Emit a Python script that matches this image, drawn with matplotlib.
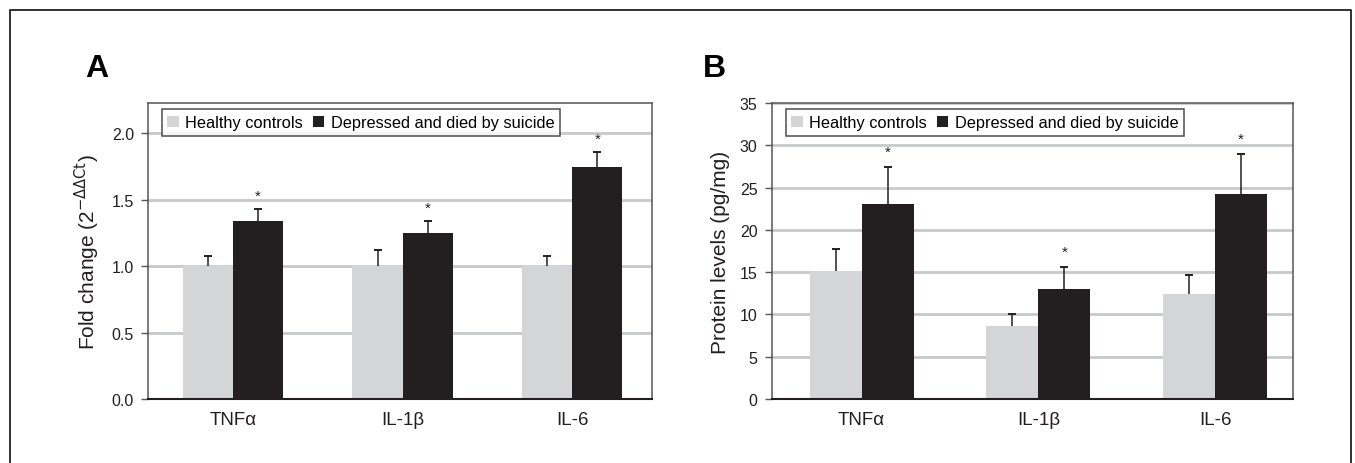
import numpy as np
import matplotlib.pyplot as plt
from matplotlib.lines import Line2D
from matplotlib.patches import Patch

plt.rcParams['font.family'] = ['Liberation Sans', 'DejaVu Sans']

cytokines = ["TNF\u03b1", "IL-1\u03b2", "IL-6"]
groups = ["Healthy controls", "Depressed and died by suicide"]

# panel A: mRNA fold change
fold_ctrl = [1.0, 1.0, 1.0]
fold_ctrl_err = [0.08, 0.12, 0.08]
fold_dep = [1.34, 1.25, 1.75]
fold_dep_err = [0.09, 0.09, 0.11]

# panel B: protein levels (pg/mg)
prot_ctrl = [15.1, 8.6, 12.4]
prot_ctrl_err = [2.6, 1.5, 2.2]
prot_dep = [23.0, 13.0, 24.2]
prot_dep_err = [4.4, 2.55, 4.8]

light = "#d4d5d7"
dark = "#231f20"
grid_c = "#c8c9cb"


def upper_err(ax, x, vals, errs):
    # only the upper half of the error bar, cap on top
    tops = np.array(vals) + np.array(errs)
    ax.vlines(x, vals, tops, color=dark, linewidth=1.1, zorder=3)
    ax.plot(x, tops, linestyle="none", marker="_", markersize=6, markeredgewidth=1.4,
            color=dark, zorder=3)


def draw_panel(ax, ctrl, ctrl_err, dep, dep_err, ymax, step, fmt, ylabel, star_off, xlim):
    x = np.arange(len(cytokines))
    w = 0.295
    ax.set_axisbelow(True)
    ax.yaxis.grid(True, color=grid_c, linewidth=2)
    ax.bar(x - w / 2, ctrl, w, color=light, zorder=2)
    ax.bar(x + w / 2, dep, w, color=dark, zorder=2)
    upper_err(ax, x - w / 2, ctrl, ctrl_err)
    upper_err(ax, x + w / 2, dep, dep_err)
    for xi, v, e in zip(x, dep, dep_err):
        ax.text(xi + w / 2, v + e + star_off, "*", ha="center", va="center", fontsize=11, color=dark)
    ax.set_ylim(0, ymax)
    ax.set_xlim(*xlim)
    ticks = np.arange(0, ymax + 1e-9, step)
    ax.set_yticks(ticks)
    ax.set_yticklabels([fmt.format(t) for t in ticks], fontsize=11.5, color=dark)
    ax.set_xticks(x)
    ax.set_xticklabels(cytokines, fontsize=13.5, color=dark)
    ax.tick_params(axis="x", length=0, pad=9)
    ax.tick_params(axis="y", length=5, width=1, color="#555555", pad=5, direction="out")
    for s in ["top", "right", "left"]:
        ax.spines[s].set_color("#555555")
        ax.spines[s].set_linewidth(1.1)
    ax.spines["bottom"].set_color(dark)
    ax.spines["bottom"].set_linewidth(1.5)
    ax.set_ylabel(ylabel, fontsize=15, color=dark, labelpad=7)
    handles = [Patch(facecolor=light, edgecolor="none"), Patch(facecolor=dark, edgecolor="none")]
    leg = ax.legend(handles, groups, loc="upper left", bbox_to_anchor=(0.027, 0.978), ncol=2,
                    fontsize=11.8, frameon=True, fancybox=False, handlelength=0.7, handleheight=0.7,
                    handletextpad=0.4, columnspacing=0.6, borderpad=0.35, borderaxespad=0)
    leg.get_frame().set_edgecolor(dark)
    leg.get_frame().set_linewidth(1.1)


fig = plt.figure(figsize=(13.55, 4.64), dpi=100)
axA = fig.add_axes([0.1092, 0.138, 0.372, 0.638])
axB = fig.add_axes([0.5694, 0.138, 0.3847, 0.638])

draw_panel(axA, fold_ctrl, fold_ctrl_err, fold_dep, fold_dep_err, 2.23, 0.5, "{:.1f}",
           "Fold change (2$^{-\\Delta\\Delta\\mathrm{Ct}}$)", 0.1, (-0.5, 2.47))
draw_panel(axB, prot_ctrl, prot_ctrl_err, prot_dep, prot_dep_err, 35, 5, "{:.0f}",
           "Protein levels (pg/mg)", 1.8, (-0.51, 2.44))

fig.text(85 / 1355, 1 - 69 / 464, "A", fontsize=23, fontweight="bold", ha="left", va="center")
fig.text(703 / 1355, 1 - 69 / 464, "B", fontsize=23, fontweight="bold", ha="left", va="center")

# outer frame, open at the bottom
fx = [10 / 1355, 10 / 1355, 1351 / 1355, 1351 / 1355]
fy = [0, 1 - 11 / 464, 1 - 11 / 464, 0]
fig.add_artist(Line2D(fx, fy, transform=fig.transFigure, color=dark, linewidth=1.3))

fig.savefig("out.png", dpi=100)
